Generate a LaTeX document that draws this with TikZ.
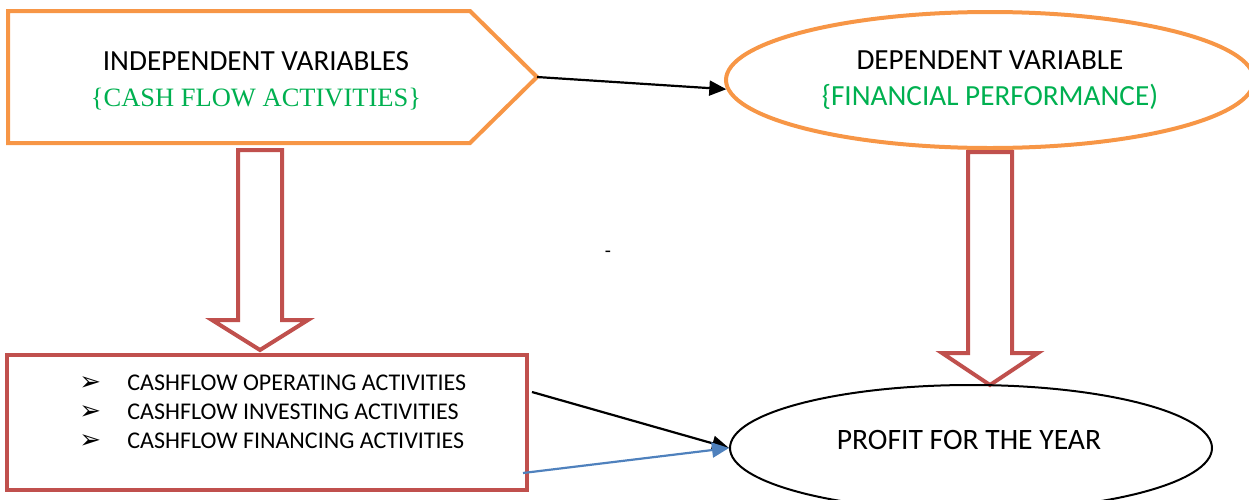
\documentclass[tikz,border=0pt]{standalone}
\usepackage{fontspec}
\setmainfont{Carlito}
\newfontfamily\serifgreen{Liberation Serif}
\newfontfamily\dingfont{DejaVu Sans}
\usetikzlibrary{shapes.geometric,arrows.meta}
\definecolor{boxorange}{HTML}{F79646}
\definecolor{arrowred}{HTML}{C0504D}
\definecolor{textgreen}{HTML}{00B050}
\definecolor{linkblue}{HTML}{4F81BD}
\def\hollowarrow(#1:#2:#3:#4){\draw[hollow] (#1-22,#2) -- (#1+22,#2) -- (#1+22,#3) -- (#1+48,#3) -- (#1,#4) -- (#1-48,#3) -- (#1-22,#3) -- cycle;}
\def\bulletline#1{\makebox[24pt][l]{\dingfont\fontsize{13}{14}\selectfont ➢}#1}

\begin{document}
\begin{tikzpicture}[x=0.5pt,y=-0.5pt,
		hollow/.style={draw=arrowred, line width=2pt, fill=white, line join=miter},
		varbox/.style={draw=boxorange, line width=2pt},
		heading/.style={font=\fontsize{14.6}{18}\selectfont, align=center, inner sep=0pt},
		link/.style={line width=1.1pt, -{Triangle[length=8.5pt,width=7.5pt]}}]
		%%%%% START %%%%%
		\useasboundingbox (0,0) rectangle (1249,499);
		\clip (0,0) rectangle (1249,499);
		
		% independent variables
		\draw[varbox, line join=miter] (8,11) -- (470,11) -- (537,77) -- (470,143) -- (8,143) -- cycle;
		\coordinate (ivtip) at (537,77);
		\node[heading] (iv) at (256,81) {INDEPENDENT VARIABLES\\{\serifgreen\fontsize{13.25}{18}\selectfont\color{textgreen}\{CASH FLOW ACTIVITIES\}}};
		
		% dependent variable
		\node[varbox, ellipse, heading, minimum width=264pt, minimum height=68pt] (dv) at (990,80) {DEPENDENT VARIABLE\\{\color{textgreen}\{FINANCIAL PERFORMANCE)}};
		
		% block arrows
		\hollowarrow(260:150:320:350);
		\hollowarrow(990:152:353:385);
		
		% cash flow activities
		\node[draw=arrowred, line width=2.3pt, minimum width=260pt, minimum height=67.5pt, inner sep=0pt] (cf) at (267,422.5) {};
		\node[anchor=west, align=left, inner sep=0pt, font=\fontsize{12}{14.5}\selectfont] (cflist) at (79,412) {\bulletline{CASHFLOW OPERATING ACTIVITIES}\\\bulletline{CASHFLOW INVESTING ACTIVITIES}\\\bulletline{CASHFLOW FINANCING ACTIVITIES}};
		
		% profit
		\node[ellipse, draw, line width=1pt, minimum width=241pt, minimum height=63pt, inner sep=0pt] (pf) at (971,448) {};
		\node[heading, font=\fontsize{14.8}{18}\selectfont] (pftext) at (969,440) {PROFIT FOR THE YEAR};
		
		\node[inner sep=0pt, font=\fontsize{10}{12}\selectfont] (dash) at (608,254) {-};
		
		% connectors
		\coordinate (cfout1) at (532,392);
		\coordinate (cfout2) at (523,473);
		\draw[link] (ivtip) -- (dv.182);
		\draw[link] (cfout1) -- (pf.west);
		\draw[link, draw=linkblue] (cfout2) -- (pf.west);
		%%%%% END %%%%%
	\end{tikzpicture}
\end{document}
